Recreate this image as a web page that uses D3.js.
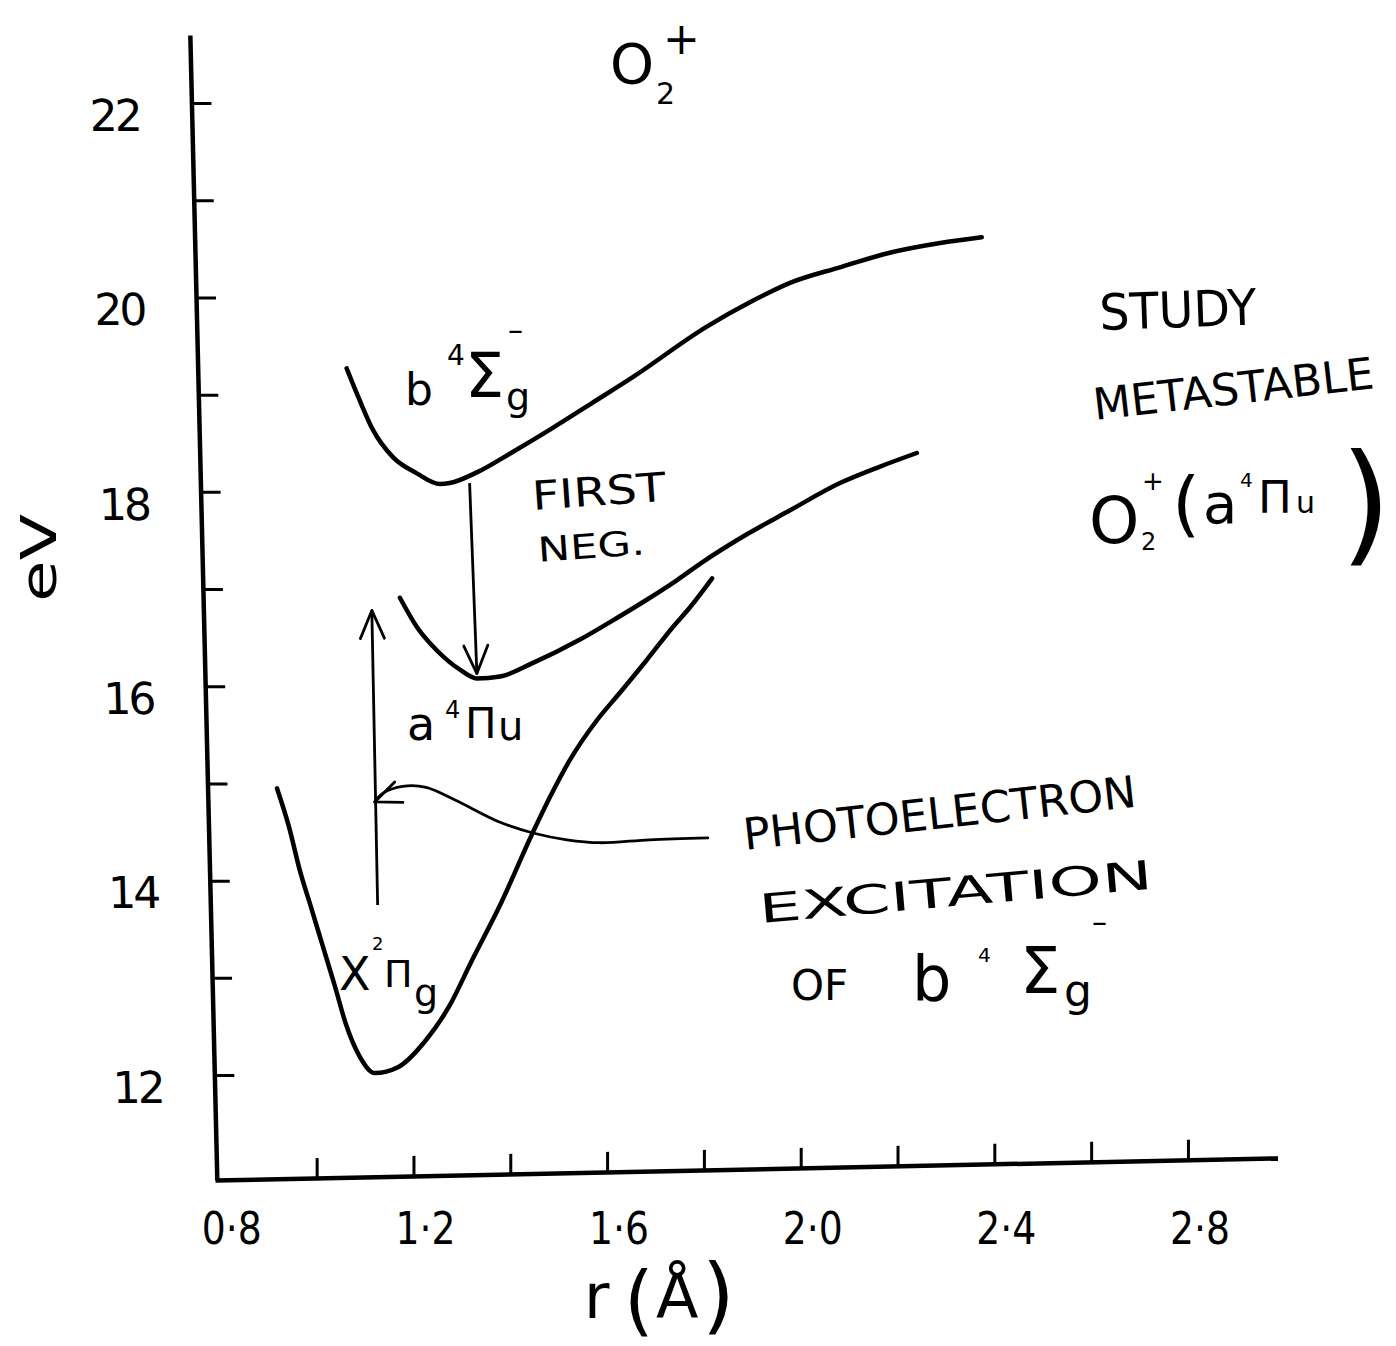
<!DOCTYPE html>
<html><head><meta charset="utf-8">
<script src="https://cdn.jsdelivr.net/npm/d3@7"></script>
<style>
html,body{margin:0;padding:0;background:#fff;}
svg{display:block;}
text{font-family:'DejaVu Sans','Liberation Sans',sans-serif;fill:#000;}
</style>
</head><body>
<svg id="chart" width="1396" height="1346"></svg>
<script>
// ---- data: potential curves of O2+ (r in Å, E in eV) ----
const stateX = [[0.918,14.95],[0.943,14.55],[0.965,14.11],[0.990,13.70],[1.013,13.32],[1.038,12.91],[1.060,12.53],[1.089,12.19],[1.120,12.02],[1.168,12.08],[1.226,12.36],[1.273,12.70],[1.321,13.18],[1.381,13.77],[1.447,14.50],[1.482,14.86],[1.523,15.24],[1.579,15.65],[1.626,15.93],[1.682,16.27],[1.736,16.61],[1.771,16.81],[1.817,17.11]];
const stateA = [[1.172,16.91],[1.207,16.61],[1.248,16.37],[1.296,16.17],[1.331,16.08],[1.379,16.10],[1.447,16.24],[1.544,16.48],[1.606,16.66],[1.682,16.89],[1.744,17.09],[1.798,17.28],[1.874,17.52],[1.978,17.81],[2.081,18.09],[2.164,18.26],[2.240,18.40]];
const stateB = [[1.062,19.27],[1.089,18.94],[1.116,18.64],[1.157,18.36],[1.207,18.19],[1.255,18.08],[1.275,18.09],[1.331,18.20],[1.405,18.41],[1.482,18.64],[1.571,18.92],[1.653,19.18],[1.806,19.70],[1.895,19.95],[1.978,20.15],[2.081,20.31],[2.184,20.46],[2.288,20.56],[2.374,20.62]];
const arrowFirstNeg = [[1.316,18.09],[1.331,16.13]];
const arrowPhoto = [[1.126,13.75],[1.114,16.78]];
const pointerCurve = [[1.808,14.44],[1.688,14.42],[1.585,14.39],[1.517,14.42],[1.447,14.49],[1.379,14.60],[1.286,14.83],[1.226,14.96],[1.178,14.97],[1.137,14.90],[1.120,14.81]];
const xTicks = [1.0,1.2,1.4,1.6,1.8,2.0,2.2,2.4,2.6,2.8];
const xLabelValues = [0.8,1.2,1.6,2.0,2.4,2.8];
const xLabelText = ["0·8","1·2","1·6","2·0","2·4","2·8"];
const yTicks = [12,13,14,15,16,17,18,19,20,21,22];
const yLabelValues = [12,14,16,18,20,22];

const svg = d3.select("#chart");
const xScale = d3.scaleLinear().domain([0.79, 2.985]).range([215, 1277.5]);
const yScale = d3.scaleLinear().domain([10.92, 22.70]).range([1180, 35]);

// ---- axes (hand-drawn, slightly slanted) ----
const yAxis = d3.axisLeft(yScale).tickValues(yTicks).tickSize(-20).tickSizeOuter(0)
  .tickFormat(d => yLabelValues.includes(d) ? String(d) : "");
const gy = svg.append("g").attr("transform","translate(189,0) skewX(1.35)").call(yAxis);
gy.select(".domain").attr("stroke-width",4.5).attr("stroke","#000");
gy.selectAll(".tick line").attr("stroke-width",3).attr("stroke","#000");
gy.selectAll(".tick text").attr("x",-77).attr("dy","0.62em").attr("text-anchor","middle")
  .attr("font-size",44).attr("letter-spacing",-3).attr("fill","#000").style("font-family","'DejaVu Sans',sans-serif");

const xAxis = d3.axisBottom(xScale).tickValues(xTicks).tickSize(-20).tickSizeOuter(0).tickFormat("");
const gx = svg.append("g").attr("transform","translate(0,1184.5) skewY(-1.19)").call(xAxis);
gx.select(".domain").attr("stroke-width",4.5).attr("stroke","#000");
gx.selectAll(".tick line").attr("stroke-width",3).attr("stroke","#000");

svg.append("g").selectAll("text").data(xLabelValues).join("text")
  .attr("x", d => xScale(d) + 12).attr("y", 1244)
  .attr("text-anchor","middle").attr("font-size",44)
  .attr("textLength",60).attr("lengthAdjust","spacingAndGlyphs")
  .text((d,i) => xLabelText[i]);

// ---- curves ----
const line = d3.line().x(d => xScale(d[0])).y(d => yScale(d[1])).curve(d3.curveMonotoneX);
[stateX, stateA, stateB].forEach(s => {
  svg.append("path").attr("d", line(s)).attr("fill","none").attr("stroke","#000")
    .attr("stroke-width",4.5).attr("stroke-linecap","round").attr("stroke-linejoin","round");
});

// ---- arrows ----
const defs = svg.append("defs");
defs.append("marker").attr("id","vhead").attr("markerUnits","userSpaceOnUse")
  .attr("viewBox","-32 -16 36 32").attr("refX",0).attr("refY",0)
  .attr("markerWidth",36).attr("markerHeight",32).attr("orient","auto")
  .append("path").attr("d","M-28,-12 L0,0 L-28,12").attr("fill","none").attr("stroke","#000")
  .attr("stroke-width",2.8).attr("stroke-linecap","round").attr("stroke-linejoin","round");
defs.append("marker").attr("id","phead").attr("markerUnits","userSpaceOnUse")
  .attr("viewBox","-32 -16 36 32").attr("refX",0).attr("refY",0)
  .attr("markerWidth",36).attr("markerHeight",32).attr("orient",158)
  .append("path").attr("d","M-26,-11 L0,0 L-26,11").attr("fill","none").attr("stroke","#000")
  .attr("stroke-width",2.8).attr("stroke-linecap","round").attr("stroke-linejoin","round");

const straight = d3.line().x(d => xScale(d[0])).y(d => yScale(d[1]));
[arrowFirstNeg, arrowPhoto].forEach(a => {
  svg.append("path").attr("d", straight(a)).attr("fill","none").attr("stroke","#000")
    .attr("stroke-width",2.8).attr("marker-end","url(#vhead)");
});
const smooth = d3.line().x(d => xScale(d[0])).y(d => yScale(d[1])).curve(d3.curveCatmullRom.alpha(0.5));
svg.append("path").attr("d", smooth(pointerCurve)).attr("fill","none").attr("stroke","#000")
  .attr("stroke-width",2.8).attr("stroke-linecap","round").attr("marker-end","url(#phead)");

// ---- labels: each composite label is one text element with positioned tspans ----
function rich(list, g) {
  const t = (g || svg).append("text");
  list.forEach(p => {
    const s = t.append("tspan").attr("x",p[1]).attr("y",p[2]).attr("font-size",p[3]).text(p[0]);
    if (p[4]) s.attr("textLength",p[4]).attr("lengthAdjust","spacingAndGlyphs");
  });
  return t;
}
// title
rich([["O",610,83,56],["2",656,104,30],["+",663,54,44]]);
// axis titles
svg.append("text").attr("transform","translate(38,558) rotate(-90)").attr("text-anchor","middle")
  .attr("dy","0.36em").attr("font-size",50).attr("textLength",88).attr("lengthAdjust","spacingAndGlyphs").text("eV");
rich([["r",584,1318,62],["(",624,1326,76],["Å",656,1318,62],[")",702,1324,84]]);

// state labels
rich([["b",405,405,44],["4",447,365,28],["Σ",465,397,62],["g",506,410,38],["–",508,340,30]]);
rich([["a",407,740,46],["4",445,718,24],["Π",465,738,42],["u",498,740,40]]);
rich([["X",339,990,46],["2",372,950,18],["Π",384,987,38],["g",414,1006,38]]);

const fn = svg.append("g").attr("transform","rotate(-4,533,510)");
rich([["FIRST",533,510,40,134]], fn);
rich([["NEG.",535,562,34,107]], fn);

const pe = svg.append("g").attr("transform","rotate(-6.3,745,850)");
rich([["PHOTOELECTRON",745,850,44,395]], pe);
const ex = svg.append("g").attr("transform","rotate(-5,760,923)");
rich([["EXCITATION",760,923,40,395]], ex);
rich([["OF",791,1000,42],["b",912,1000,62],["4",978,962,20],["Σ",1020,993,64],["g",1064,1006,44],["–",1092,932,30]]);

const st = svg.append("g").attr("transform","rotate(-2,1100,330)");
rich([["STUDY",1100,330,50,157]], st);
const mt = svg.append("g").attr("transform","rotate(-6.5,1095,420)");
rich([["METASTABLE",1095,420,44,282]], mt);
rich([["O",1089,543,64],["2",1141,550,24],["+",1142,490,26],["(",1172,528,72],
      ["a",1203,523,56],["4",1240,487,20],["Π",1258,513,45],["u",1296,513,30],[")",1340,548,132]]);
</script>
</body></html>
